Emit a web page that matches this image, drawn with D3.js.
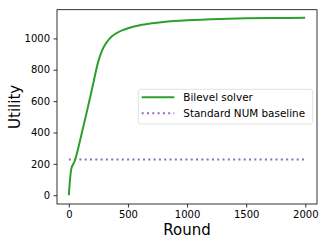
<!DOCTYPE html>
<html><head><meta charset="utf-8">
<script src="https://cdn.jsdelivr.net/npm/d3@7"></script>
<style>body{margin:0;background:#fff}svg{display:block}text{font-family:"DejaVu Sans",sans-serif;fill:#000}</style>
</head><body>
<script>
const rounds = [0, 20, 50, 100, 150, 200, 250, 280, 300, 330, 360, 400, 450, 500, 600, 700, 800, 1000, 1200, 1500, 1750, 1999];
const bilevel = [0, 165, 218, 365, 525, 690, 855, 920, 952, 985, 1010, 1032, 1051, 1065, 1084, 1096, 1105, 1116, 1122, 1128, 1130, 1131];
const baseline = 228;
const xTicks = [0, 500, 1000, 1500, 2000];
const yTicks = [0, 200, 400, 600, 800, 1000];
const seriesNames = ["Bilevel solver", "Standard NUM baseline"];

const W = 327, H = 245;
const m = {l: 57, r: 10, t: 9.7, b: 41};
const svg = d3.select("body").append("svg").attr("width", W).attr("height", H);
const x = d3.scaleLinear().domain([-100, 2099]).range([m.l, W - m.r]);
const y = d3.scaleLinear().domain([-56, 1183]).range([H - m.b, m.t]);

const g = svg.append("g");
g.append("line").attr("x1", x(0)).attr("x2", x(1999)).attr("y1", y(baseline)).attr("y2", y(baseline))
  .attr("stroke", "#9467bd").attr("stroke-width", 2).attr("stroke-dasharray", "2,3.3");
g.append("path").datum(rounds.map((r, i) => [r, bilevel[i]]))
  .attr("d", d3.line().x(d => x(d[0])).y(d => y(d[1])).curve(d3.curveMonotoneX))
  .attr("fill", "none").attr("stroke", "#2ca02c").attr("stroke-width", 2);

const xa = svg.append("g").attr("transform", `translate(0,${H - m.b})`)
  .call(d3.axisBottom(x).tickValues(xTicks).tickSize(3.5).tickPadding(3.5).tickFormat(d3.format("d")));
const ya = svg.append("g").attr("transform", `translate(${m.l},0)`)
  .call(d3.axisLeft(y).tickValues(yTicks).tickSize(3.5).tickPadding(3.5).tickFormat(d3.format("d")));
[xa, ya].forEach(a => { a.select(".domain").remove(); a.selectAll("text").attr("font-size", 10).attr("font-family", "DejaVu Sans"); a.selectAll("line").attr("stroke", "#000").attr("stroke-width", 0.8); });
svg.append("rect").attr("x", m.l).attr("y", m.t).attr("width", W - m.r - m.l).attr("height", H - m.b - m.t)
  .attr("fill", "none").attr("stroke", "#000").attr("stroke-width", 0.8);

svg.append("text").attr("x", (m.l + W - m.r) / 2).attr("y", 235).attr("text-anchor", "middle").attr("font-size", 15).text("Round");
svg.append("text").attr("transform", `translate(20,${(m.t + H - m.b) / 2}) rotate(-90)`).attr("text-anchor", "middle").attr("font-size", 15).text("Utility");

const lg = svg.append("g");
lg.append("rect").attr("x", 138.3).attr("y", 89.3).attr("width", 174.4).attr("height", 34.7).attr("rx", 2.5)
  .attr("fill", "#fff").attr("fill-opacity", 0.8).attr("stroke", "#d9d9d9").attr("stroke-width", 0.8);
const rowsY = [97.3, 113.3];
lg.append("line").attr("x1", 141.7).attr("x2", 174.3).attr("y1", rowsY[0]).attr("y2", rowsY[0]).attr("stroke", "#2ca02c").attr("stroke-width", 2);
lg.append("line").attr("x1", 141.7).attr("x2", 174.3).attr("y1", rowsY[1]).attr("y2", rowsY[1]).attr("stroke", "#9467bd").attr("stroke-width", 2).attr("stroke-dasharray", "2,3.3");
seriesNames.forEach((n, i) => lg.append("text").attr("x", 183.3).attr("y", rowsY[i]).attr("dy", "0.35em").attr("font-size", 10.4).text(n));
</script>
</body></html>
